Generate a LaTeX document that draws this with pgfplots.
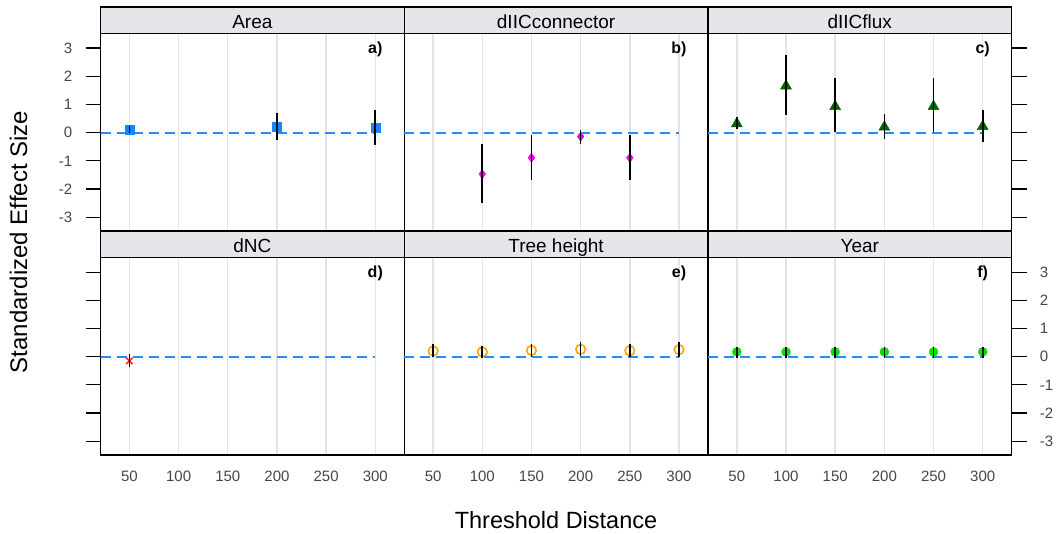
\documentclass[border=0pt]{standalone}
\usepackage{fontspec}
\setmainfont{Liberation Sans}
\usepackage{pgfplots}
\usepackage{pgfplotstable}
\pgfplotsset{compat=1.18}

\definecolor{refblue}{RGB}{30,144,255}
\definecolor{stripgray}{RGB}{230,230,234}
\definecolor{gridgray}{RGB}{228,228,228}
\definecolor{tickgray}{RGB}{70,70,70}
\definecolor{areablue}{RGB}{20,135,255}
\definecolor{conmag}{RGB}{235,0,235}
\definecolor{fluxgreen}{RGB}{0,100,0}
\definecolor{ncred}{RGB}{255,40,40}
\definecolor{treeorange}{RGB}{255,165,0}
\definecolor{yeargreen}{RGB}{0,225,0}

% effect size (y) with upper (ep) and lower (em) interval half-widths
\pgfplotstableread{
x   y     ep    em
50  0.12  0.10  0.12
200 0.21  0.48  0.47
300 0.19  0.61  0.63
}\areadata
\pgfplotstableread{
x   y      ep    em
100 -1.47  1.06  1.04
150 -0.89  0.81  0.79
200 -0.14  0.23  0.26
250 -0.89  0.81  0.79
}\condata
\pgfplotstableread{
x   y     ep    em
50  0.32  0.23  0.19
100 1.66  1.10  1.03
150 0.93  1.02  0.90
200 0.20  0.46  0.44
250 0.93  1.02  0.90
300 0.22  0.58  0.54
}\fluxdata
\pgfplotstableread{
x   y      ep    em
50  -0.15  0.24  0.20
}\ncdata
\pgfplotstableread{
x   y     ep    em
50  0.20  0.24  0.20
100 0.17  0.22  0.21
150 0.22  0.24  0.22
200 0.26  0.25  0.24
250 0.21  0.25  0.21
300 0.25  0.26  0.25
}\treedata
\pgfplotstableread{
x   y     ep    em
50  0.17  0.18  0.21
100 0.17  0.18  0.21
150 0.17  0.18  0.21
200 0.17  0.18  0.21
250 0.17  0.18  0.21
300 0.17  0.18  0.21
}\yeardata

\pgfplotsset{
  every axis title shift=0pt,
  panel/.style={
    scale only axis, width=303.7pt, height=197.5pt,
    xmin=20.6, xmax=329.4, ymin=-3.49, ymax=3.52,
    clip marker paths=true,
    xtick={50,100,150,200,250,300}, ytick={-3,-2,-1,0,1,2,3},
    xmajorgrids,
    major grid style={draw=gridgray, line width=1.4pt},
    axis line style={line width=1.3pt, black},
    xtick style={draw=none},
    ytick style={draw=black, line width=1.3pt},
    major tick length=15pt,
    xtick align=inside, ytick align=outside,
    tick label style={font=\fontsize{15}{15}\selectfont, text=tickgray, inner sep=0pt},
    /pgf/number format/assume math mode=true,
    xticklabel shift=16pt,
    yticklabel shift=13pt,
    title style={at={(0.5,1)}, anchor=south, yshift=0pt, draw=black,
      line width=1.3pt, fill=stripgray,
      minimum width=303.7pt, minimum height=26.5pt, inner sep=0pt, outer sep=0pt,
      text height=16.9pt, text depth=0pt, font=\fontsize{19}{19}\selectfont},
  },
  toprow/.style={panel, xticklabels={}},
  refline/.style={refblue, line width=2pt, dash pattern=on 10pt off 6pt, forget plot},
  ebars/.style={draw=none, mark=none, forget plot,
    error bars/.cd, y dir=both, y explicit, error mark=none,
    error bar style={draw=black, solid, line width=1.6pt}},
}
\tikzset{letter/.style={font=\bfseries\fontsize{16}{16}\selectfont}}

\begin{document}
\begin{tikzpicture}
\useasboundingbox (0pt,0pt) rectangle (1059pt,533pt);

% ---- top row ----
\begin{axis}[toprow, at={(100.5pt,302pt)}, anchor=south west,
  title={Area}, ytick pos=left]
  \addplot[refline] coordinates {(20.6,0) (300,0)};
  \addplot[only marks, mark=square*, mark size=4.5pt, color=areablue] table[x=x,y=y]{\areadata};
  \addplot[ebars] table[x=x, y=y, y error plus=ep, y error minus=em]{\areadata};
  \node[letter] at (axis cs:300,2.95) {a)};
\end{axis}

\begin{axis}[toprow, at={(404.2pt,302pt)}, anchor=south west,
  title={dIICconnector}, ytick=\empty]
  \addplot[refline] coordinates {(20.6,0) (300,0)};
  \addplot[only marks, mark=diamond*, mark size=4.5pt, color=conmag] table[x=x,y=y]{\condata};
  \addplot[ebars] table[x=x, y=y, y error plus=ep, y error minus=em]{\condata};
  \node[letter] at (axis cs:300,2.95) {b)};
\end{axis}

\begin{axis}[toprow, at={(707.9pt,302pt)}, anchor=south west,
  title={dIICflux}, ytick pos=right, yticklabels={}]
  \addplot[refline] coordinates {(20.6,0) (300,0)};
  \addplot[only marks, mark=triangle*, mark size=6.3pt, color=fluxgreen] table[x=x,y=y]{\fluxdata};
  \addplot[ebars] table[x=x, y=y, y error plus=ep, y error minus=em]{\fluxdata};
  \node[letter] at (axis cs:300,2.95) {c)};
\end{axis}

% ---- bottom row ----
\begin{axis}[panel, at={(100.5pt,78pt)}, anchor=south west,
  title={dNC}, ytick pos=left, yticklabels={}]
  \addplot[refline] coordinates {(20.6,0) (300,0)};
  \addplot[only marks, mark=x, mark size=4.5pt, line width=1.6pt, color=ncred] table[x=x,y=y]{\ncdata};
  \addplot[ebars] table[x=x, y=y, y error plus=ep, y error minus=em]{\ncdata};
  \node[letter] at (axis cs:300,2.95) {d)};
\end{axis}

\begin{axis}[panel, at={(404.2pt,78pt)}, anchor=south west,
  title={Tree height}, ytick=\empty]
  \addplot[refline] coordinates {(20.6,0) (300,0)};
  \addplot[only marks, mark=o, mark size=4.8pt, line width=1.6pt, color=treeorange] table[x=x,y=y]{\treedata};
  \addplot[ebars] table[x=x, y=y, y error plus=ep, y error minus=em]{\treedata};
  \node[letter] at (axis cs:300,2.95) {e)};
\end{axis}

\begin{axis}[panel, at={(707.9pt,78pt)}, anchor=south west,
  title={Year}, ytick pos=right, yticklabel pos=right]
  \addplot[refline] coordinates {(20.6,0) (300,0)};
  \addplot[only marks, mark=*, mark size=4.5pt, color=yeargreen] table[x=x,y=y]{\yeardata};
  \addplot[ebars] table[x=x, y=y, y error plus=ep, y error minus=em]{\yeardata};
  \node[letter] at (axis cs:300,2.95) {f)};
\end{axis}

% ---- shared axis titles ----
\node[rotate=90, font=\fontsize{24}{24}\selectfont] at (18.5pt,291pt) {Standardized Effect Size};
\node[font=\fontsize{23.5}{23.5}\selectfont] at (556pt,13pt) {Threshold Distance};
\end{tikzpicture}
\end{document}
